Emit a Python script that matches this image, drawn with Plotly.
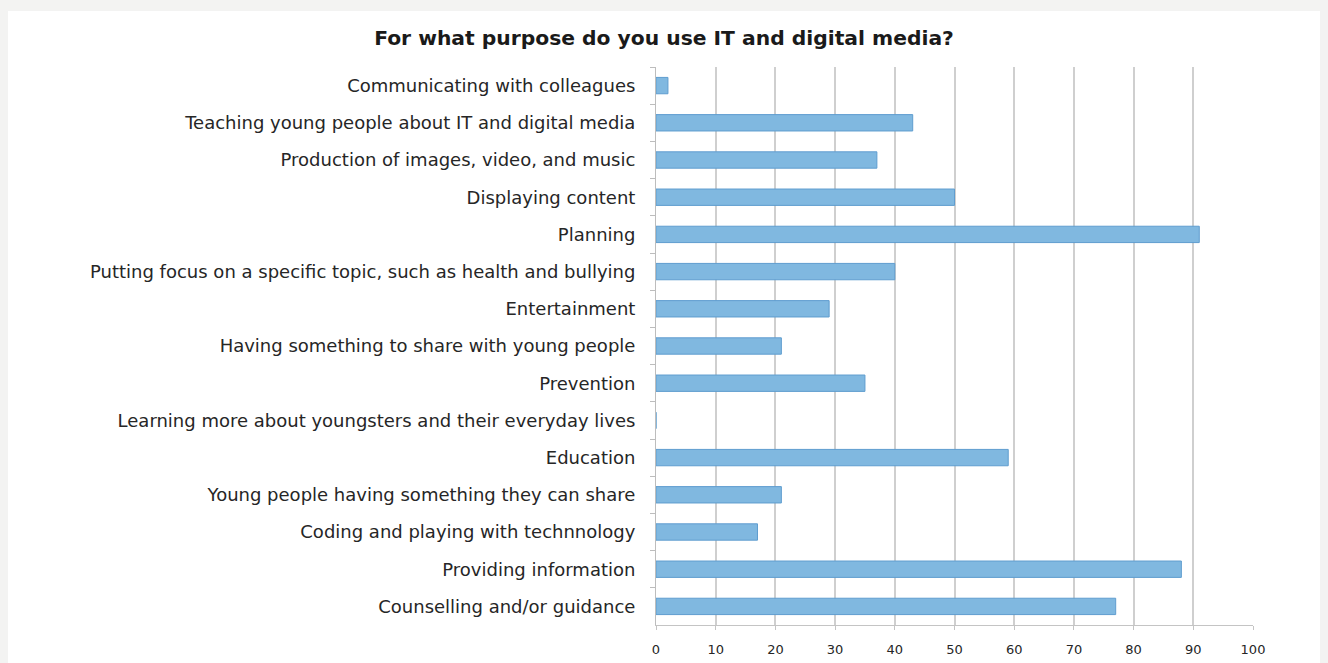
import plotly.graph_objects as go

# Survey answers, listed top to bottom as they appear on the chart
purposes = [
    "Communicating with colleagues",
    "Teaching young people about IT and digital media",
    "Production of images, video, and music",
    "Displaying content",
    "Planning",
    "Putting focus on a specific topic, such as health and bullying",
    "Entertainment",
    "Having something to share with young people",
    "Prevention",
    "Learning more about youngsters and their everyday lives",
    "Education",
    "Young people having something they can share",
    "Coding and playing with technnology",
    "Providing information",
    "Counselling and/or guidance",
]
responses = [2, 43, 37, 50, 91, 40, 29, 21, 35, 0, 59, 21, 17, 88, 77]

x_ticks = [0, 10, 20, 30, 40, 50, 60, 70, 80, 90, 100]

text_color = "#262626"
grid_color = "#cfcfcf"

# plot area in pixels
left, right, top, bottom = 656, 1253, 67, 625
plot_w = right - left
plot_h = bottom - top

fig = go.Figure(
    go.Bar(
        x=responses,
        y=purposes,
        orientation="h",
        marker=dict(color="#80b8e0", line=dict(color="#5f9dcf", width=1)),
        hoverinfo="x+y",
    )
)

fig.update_layout(
    width=1328,
    height=663,
    margin=dict(l=left, r=1328 - right, t=top, b=663 - bottom),
    paper_bgcolor="#f3f3f2",
    plot_bgcolor="white",
    bargap=0.56,
    showlegend=False,
    title=dict(
        text="<b>For what purpose do you use IT and digital media?</b>",
        x=0.5,
        xanchor="center",
        y=1 - 38 / 663,
        yanchor="middle",
        font=dict(family="DejaVu Sans", size=20.3, color="#1a1a1a"),
    ),
    shapes=[
        # white card behind the chart
        dict(
            type="rect",
            xref="paper",
            yref="paper",
            x0=(8 - left) / plot_w,
            x1=(1320 - left) / plot_w,
            y0=(bottom - 663) / plot_h,
            y1=(bottom - 11) / plot_h,
            fillcolor="white",
            line=dict(width=0),
            layer="below",
        )
    ],
    xaxis=dict(
        range=[0, 100],
        tickvals=x_ticks,
        ticktext=[str(v) for v in x_ticks],
        showgrid=True,
        gridcolor=grid_color,
        gridwidth=2,
        zeroline=False,
        showline=True,
        linecolor="#c4c4c4",
        linewidth=1,
        ticks="outside",
        ticklen=4,
        tickcolor="#c4c4c4",
        ticklabelstandoff=8,
        tickfont=dict(family="DejaVu Sans", size=13, color=text_color),
        automargin=False,
        fixedrange=True,
    ),
    yaxis=dict(
        autorange="reversed",
        type="category",
        showgrid=False,
        showline=True,
        linecolor="#bdbdbd",
        linewidth=1,
        ticks="outside",
        tickson="boundaries",
        ticklen=5,
        tickcolor="#bdbdbd",
        ticklabelstandoff=16,
        tickfont=dict(family="DejaVu Sans", size=18, color=text_color),
        automargin=False,
        fixedrange=True,
    ),
)

fig.write_html("out.html")
